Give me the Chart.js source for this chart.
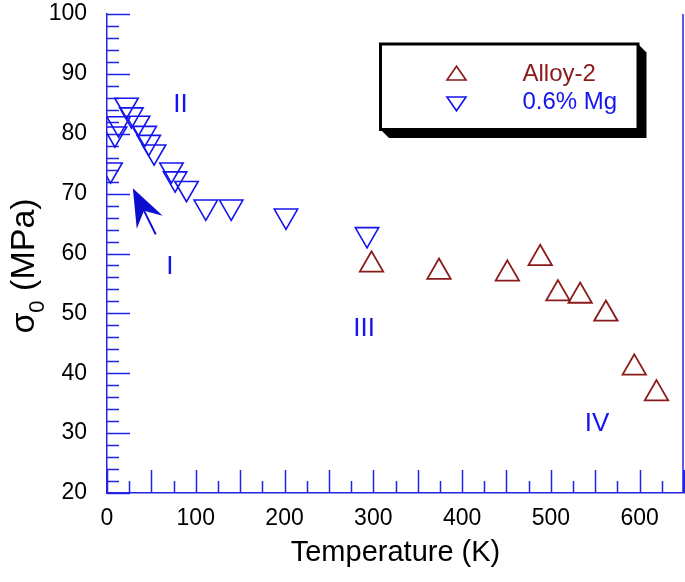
<!DOCTYPE html>
<html>
<head>
<meta charset="utf-8">
<script src="https://cdn.jsdelivr.net/npm/chart.js@4.4.1/dist/chart.umd.min.js"></script>
<style>
  html, body { margin: 0; padding: 0; background: #fff; }
  #wrap { width: 685px; height: 582px; }
</style>
</head>
<body>
<div id="wrap"><canvas id="sigmaChart" width="685" height="582"></canvas></div>
<script>
// Alloy-2 (open up-triangles)
const alloyTemp  = [298, 374, 451, 488, 508, 533, 562, 594, 619];
const alloySigma = [58.1, 56.9, 56.6, 59.2, 53.3, 52.9, 49.9, 40.9, 36.6];

// 0.6% Mg (open down-triangles)
const mgTemp  = [4, 9, 13, 22, 27.5, 35, 42.5, 47, 53, 72.6, 76.7, 89.6, 111.3, 139.9, 201.6, 292.9];
const mgSigma = [74.0, 80.0, 81.7, 84.8, 83.2, 81.8, 80.1, 78.6, 77.0, 74.0, 72.5, 70.9, 67.8, 67.8, 66.3, 63.2];

// regime labels written on the plot
const regionLabels = ['I', 'II', 'III', 'IV'];
const regionTemp   = [70.7, 82.9, 289.6, 552];
const regionSigma  = [57.7, 84.8, 47.4, 31.5];

// arrow pointing at regime I (tail -> tip)
const arrowTail = [54.9, 63.2];
const arrowTip  = [29.1, 70.9];

const xTitle = 'Temperature (K)';
const yTitleMain = 'σ';
const yTitleSub = '0';
const yTitleRest = ' (MPa)';

const axisBlue = '#2323e6';
const mgBlue = '#1414f0';
const alloyRed = '#8b1a1a';
const FONT = '"Liberation Sans", Arial, Helvetica, sans-serif';

function toXY(xs, ys) {
    return xs.map((x, i) => ({ x, y: ys[i] }));
}

function noPad(s) {
    s.paddingTop = 0;
    s.paddingBottom = 0;
    s.paddingLeft = 0;
    s.paddingRight = 0;
}

// inward tick marks + right frame line
const tickMarks = {
    id: 'tickMarks',
    beforeDatasetsDraw(chart) {
        const { ctx, chartArea: a, scales: { x, y } } = chart;
        ctx.save();
        ctx.strokeStyle = axisBlue;
        ctx.lineWidth = 1.5;
        ctx.beginPath();
        x.ticks.forEach(t => {
            const px = Math.round(x.getPixelForValue(t.value)) + 0.5;
            const len = t.value % 50 === 0 ? 23 : 12;
            ctx.moveTo(px, a.bottom);
            ctx.lineTo(px, a.bottom - len);
        });
        y.ticks.forEach(t => {
            const py = Math.round(y.getPixelForValue(t.value)) + 0.5;
            const len = t.value % 10 === 0 ? 23 : 12;
            ctx.moveTo(a.left, py);
            ctx.lineTo(a.left + len, py);
        });
        ctx.moveTo(a.right - 1, a.top);
        ctx.lineTo(a.right - 1, a.bottom);
        ctx.stroke();
        ctx.restore();
    }
};

// y title with subscript, regime labels, arrow, boxed legend
const extras = {
    id: 'extras',
    afterDraw(chart) {
        const { ctx, scales: { x, y } } = chart;
        ctx.save();

        // y axis title
        ctx.fillStyle = '#000';
        ctx.textBaseline = 'alphabetic';
        ctx.textAlign = 'left';
        const fs = 34;
        ctx.translate(34, 266);
        ctx.rotate(-Math.PI / 2);
        ctx.font = fs + 'px ' + FONT;
        const wMain = ctx.measureText(yTitleMain).width;
        const wRest = ctx.measureText(yTitleRest).width;
        ctx.font = Math.round(fs * 0.65) + 'px ' + FONT;
        const wSub = ctx.measureText(yTitleSub).width;
        let cx = -(wMain + wSub + wRest) / 2;
        ctx.font = fs + 'px ' + FONT;
        ctx.fillText(yTitleMain, cx, 0);
        cx += wMain;
        ctx.font = Math.round(fs * 0.65) + 'px ' + FONT;
        ctx.fillText(yTitleSub, cx, fs * 0.28);
        cx += wSub;
        ctx.font = fs + 'px ' + FONT;
        ctx.fillText(yTitleRest, cx, 0);
        ctx.setTransform(1, 0, 0, 1, 0, 0);

        // regime labels
        ctx.fillStyle = mgBlue;
        ctx.font = '26px ' + FONT;
        ctx.textAlign = 'center';
        ctx.textBaseline = 'middle';
        regionLabels.forEach((lab, i) => {
            ctx.fillText(lab, x.getPixelForValue(regionTemp[i]), y.getPixelForValue(regionSigma[i]));
        });

        // arrow
        const tx = x.getPixelForValue(arrowTip[0]), ty = y.getPixelForValue(arrowTip[1]);
        const sx = x.getPixelForValue(arrowTail[0]), sy = y.getPixelForValue(arrowTail[1]);
        const len = Math.hypot(tx - sx, ty - sy);
        const bx = (sx - tx) / len, by = (sy - ty) / len;
        const px = -by, py = bx;
        const headLen = 38, halfW = 14.5, notch = 25;
        ctx.fillStyle = '#0d0dd0';
        ctx.strokeStyle = '#0d0dd0';
        ctx.lineWidth = 2;
        ctx.beginPath();
        ctx.moveTo(tx, ty);
        ctx.lineTo(tx + bx * headLen + px * halfW, ty + by * headLen + py * halfW);
        ctx.lineTo(tx + bx * notch, ty + by * notch);
        ctx.lineTo(tx + bx * headLen - px * halfW, ty + by * headLen - py * halfW);
        ctx.closePath();
        ctx.fill();
        ctx.beginPath();
        ctx.moveTo(tx + bx * notch, ty + by * notch);
        ctx.lineTo(sx, sy);
        ctx.stroke();

        // legend box with drop shadow
        const L = 380.5, T = 44, R = 638, B = 129.5, off = 8.5;
        ctx.fillStyle = '#000';
        ctx.beginPath();
        ctx.moveTo(R, T);
        ctx.lineTo(R + off, T + off);
        ctx.lineTo(R + off, B + off);
        ctx.lineTo(L + off, B + off);
        ctx.lineTo(L, B);
        ctx.closePath();
        ctx.fill();
        ctx.fillStyle = '#fff';
        ctx.fillRect(L, T, R - L, B - T);
        ctx.strokeStyle = '#000';
        ctx.lineWidth = 3;
        ctx.strokeRect(L, T, R - L, B - T);

        const rows = [74.5, 102.5];
        chart.data.datasets.forEach((ds, i) => {
            const cy = rows[i];
            const mx = 456.5, r = 11;
            const down = ds.rotation === 180;
            ctx.strokeStyle = ds.borderColor;
            ctx.lineWidth = 1.6;
            ctx.beginPath();
            if (down) {
                ctx.moveTo(mx - r * 0.866, cy - r * 0.5);
                ctx.lineTo(mx + r * 0.866, cy - r * 0.5);
                ctx.lineTo(mx, cy + r * 0.75);
            } else {
                ctx.moveTo(mx - r * 0.866, cy + r * 0.5);
                ctx.lineTo(mx + r * 0.866, cy + r * 0.5);
                ctx.lineTo(mx, cy - r * 0.75);
            }
            ctx.closePath();
            ctx.stroke();
            ctx.fillStyle = ds.borderColor;
            ctx.font = '24px ' + FONT;
            ctx.textAlign = 'left';
            ctx.textBaseline = 'middle';
            ctx.fillText(ds.label, 522.5, cy);
        });

        ctx.restore();
    }
};

new Chart(document.getElementById('sigmaChart'), {
    type: 'scatter',
    data: {
        datasets: [
            {
                label: 'Alloy-2',
                data: toXY(alloyTemp, alloySigma),
                pointStyle: 'triangle',
                rotation: 0,
                pointRadius: 13.5,
                pointHoverRadius: 13.5,
                borderWidth: 1.8,
                borderColor: alloyRed,
                backgroundColor: 'rgba(0,0,0,0)'
            },
            {
                label: '0.6% Mg',
                data: toXY(mgTemp, mgSigma),
                pointStyle: 'triangle',
                rotation: 180,
                pointRadius: 13.5,
                pointHoverRadius: 13.5,
                borderWidth: 1.6,
                borderColor: mgBlue,
                backgroundColor: 'rgba(0,0,0,0)'
            }
        ]
    },
    options: {
        responsive: false,
        animation: false,
        events: [],
        layout: {
            autoPadding: false,
            padding: { top: 14, right: 1, left: 0, bottom: 0 }
        },
        plugins: {
            legend: { display: false },
            tooltip: { enabled: false }
        },
        scales: {
            x: {
                type: 'linear',
                min: 0,
                max: 650,
                afterFit: s => { s.height = 89; noPad(s); },
                grid: { display: false, drawTicks: false },
                border: { display: true, color: axisBlue, width: 1.5 },
                ticks: {
                    stepSize: 25,
                    autoSkip: false,
                    maxRotation: 0,
                    padding: 12,
                    color: '#000',
                    font: { family: FONT, size: 23 },
                    callback: v => (v % 100 === 0 && v <= 600 ? v : '')
                },
                title: {
                    display: true,
                    text: xTitle,
                    color: '#000',
                    font: { family: FONT, size: 29 },
                    padding: { top: 0, bottom: 12 }
                }
            },
            y: {
                type: 'linear',
                min: 20,
                max: 100,
                afterFit: s => { s.width = 107; noPad(s); },
                grid: { display: false, drawTicks: false },
                border: { display: true, color: axisBlue, width: 1.5 },
                ticks: {
                    stepSize: 2,
                    autoSkip: false,
                    padding: 20,
                    color: '#000',
                    font: { family: FONT, size: 23 },
                    callback: v => (v % 10 === 0 ? v : '')
                }
            }
        }
    },
    plugins: [tickMarks, extras]
});
</script>
</body>
</html>
